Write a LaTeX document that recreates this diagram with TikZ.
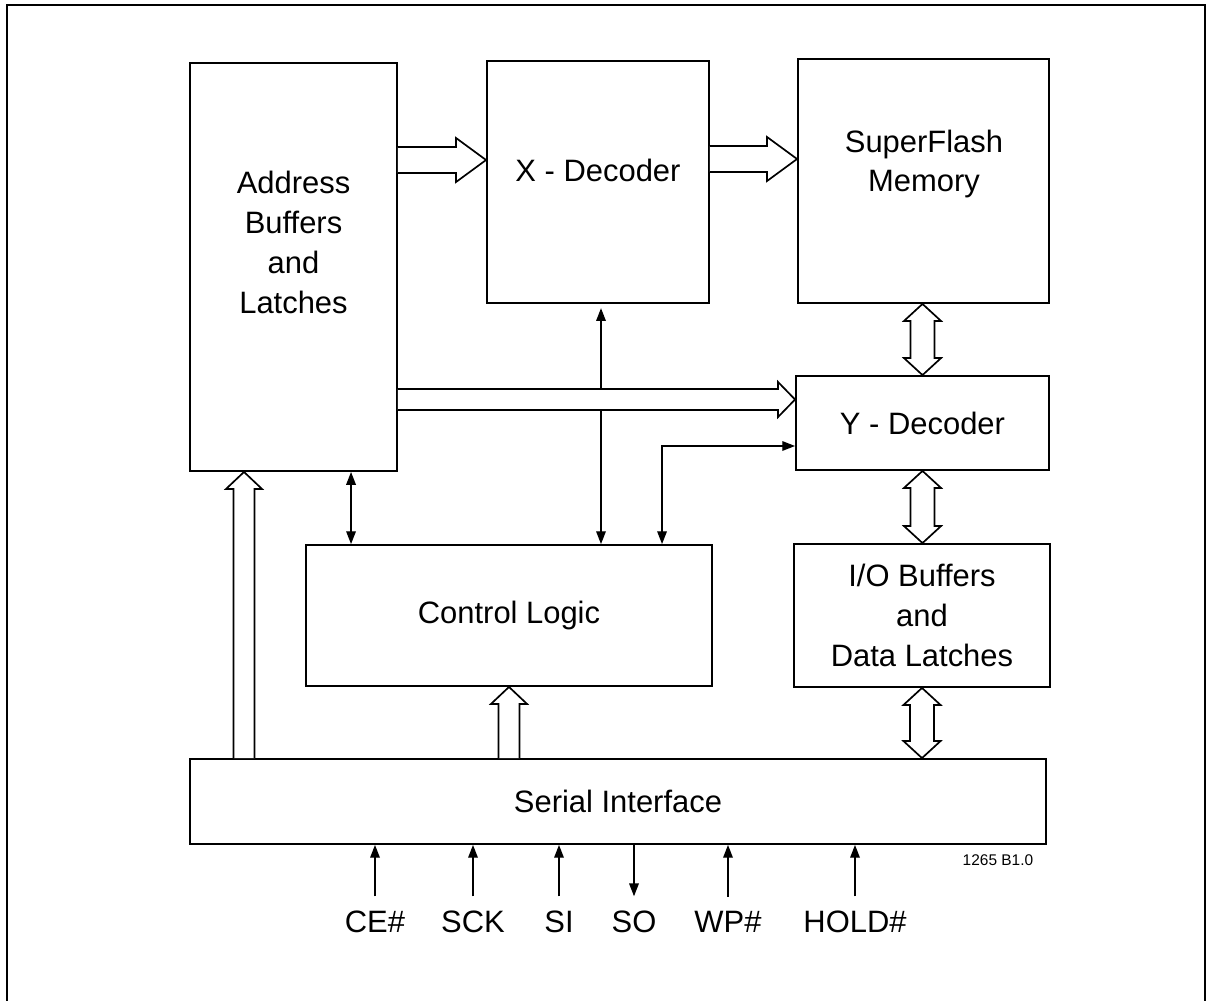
\documentclass[tikz,border=0pt]{standalone}
\usepackage{fontspec}
\setmainfont{Liberation Sans}
\usetikzlibrary{arrows.meta,calc}

% hollow bus arrows: start, tip, shaft half width, head half width, head length
\newcommand{\busright}[5]{\filldraw[bus] ($(#1)+(0,-#3)$) -- ($(#2)+(-#5,-#3)$) -- ($(#2)+(-#5,-#4)$) -- (#2) -- ($(#2)+(-#5,#4)$) -- ($(#2)+(-#5,#3)$) -- ($(#1)+(0,#3)$);}
\newcommand{\busup}[5]{\filldraw[bus] ($(#1)+(-#3,0)$) -- ($(#2)+(-#3,#5)$) -- ($(#2)+(-#4,#5)$) -- (#2) -- ($(#2)+(#4,#5)$) -- ($(#2)+(#3,#5)$) -- ($(#1)+(#3,0)$);}
\newcommand{\busboth}[5]{\filldraw[bus] (#1) -- ($(#1)+(#4,#5)$) -- ($(#1)+(#3,#5)$) -- ($(#2)+(#3,-#5)$) -- ($(#2)+(#4,-#5)$) -- (#2) -- ($(#2)+(-#4,-#5)$) -- ($(#2)+(-#3,-#5)$) -- ($(#1)+(-#3,#5)$) -- ($(#1)+(-#4,#5)$) -- cycle;}

\begin{document}
\begin{tikzpicture}[x=0.025cm,y=-0.025cm,
      >={Triangle[length=0.32cm,width=0.24cm]},
      every node/.style={font=\fontsize{22}{28.4}\selectfont},
      blk/.style={draw,line width=1.3pt,inner sep=0pt,align=center},
      txt/.style={inner sep=0pt,align=center},
      sig/.style={line width=1pt},
      bus/.style={fill=white,line width=1.2pt},
      pin/.style={inner sep=0pt,outer ysep=0.37cm}]
      \useasboundingbox (0,0) rectangle (1212,1001);
      \draw[line width=1.4pt] (7,1001) -- (7,5) -- (1205,5) -- (1205,1001);
      % blocks
      \node[blk,minimum width=5.175cm,minimum height=10.2cm] (abl) at (293.5,267) {};
      \node[txt] (abltxt) at (293.5,242.5) {Address\\Buffers\\and\\Latches};
      \node[blk,minimum width=5.55cm,minimum height=6.05cm] (xdec) at (598,182) {};
      \node[txt] (xdectxt) at (598,170) {X - Decoder};
      \node[blk,minimum width=6.275cm,minimum height=6.1cm] (mem) at (923.5,181) {};
      \node[txt] (memtxt) at (924,164) {SuperFlash\\Memory};
      \node[blk,minimum width=6.325cm,minimum height=2.35cm] (ydec) at (922.5,423) {Y - Decoder};
      \node[blk,minimum width=6.4cm,minimum height=3.575cm] (iob) at (922,615.5) {I/O Buffers\\and\\Data Latches};
      \node[blk,minimum width=10.15cm,minimum height=3.525cm] (ctl) at (509,615.5) {Control Logic};
      \node[blk,minimum width=21.4cm,minimum height=2.125cm] (ser) at (618,801.5) {Serial Interface};
      \node[font=\fontsize{11}{13}\selectfont] (fig) at (998,860) {1265 B1.0};
      % control lines
      \coordinate (ac) at ($(ctl.north west)+(46,0)$);
      \draw[sig,<->] (abl.south -| ac) -- (ac);
      \coordinate (xc) at ($(xdec.south)+(3,0)$);
      \draw[sig,<->,shorten <=3pt] (xc) -- (xc |- ctl.north);
      \coordinate (cc) at ($(ctl.north west)+(357,0)$);
      \coordinate (cy) at ($(ydec.west)+(0,23)$);
      \draw[sig,<->] (cc) |- (cy);
      % buses
      \coordinate (ax1) at ($(xdec.west)+(0,-22)$);
      \coordinate (ax0) at (abl.east |- ax1);
      \busright{ax0}{ax1}{13}{22}{30}
      \coordinate (xm1) at ($(mem.west)+(0,-22)$);
      \coordinate (xm0) at (xdec.east |- xm1);
      \busright{xm0}{xm1}{13}{22}{30}
      \coordinate (ay1) at ($(ydec.west)+(0,-23.5)$);
      \coordinate (ay0) at (abl.east |- ay1);
      \busright{ay0}{ay1}{10.5}{17.5}{17}
      \coordinate (sa1) at ($(abl.south)+(-49.5,0)$);
      \coordinate (sa0) at (ser.north -| sa1);
      \busup{sa0}{sa1}{10.5}{18}{17}
      \coordinate (sc1) at (ctl.south);
      \coordinate (sc0) at (ser.north -| sc1);
      \busup{sc0}{sc1}{10.5}{18}{17}
      \coordinate (my0) at (mem.south -| ydec.north);
      \coordinate (my1) at (ydec.north);
      \busboth{my0}{my1}{12}{18.5}{17}
      \coordinate (yi0) at (ydec.south);
      \coordinate (yi1) at (ydec.south |- iob.north);
      \busboth{yi0}{yi1}{12}{18.5}{17}
      \coordinate (is0) at (iob.south);
      \coordinate (is1) at (iob.south |- ser.north);
      \busboth{is0}{is1}{12}{18.5}{17}
      % pins
      \foreach \x/\name/\lbl in {375/ce/CE\#,473/sck/SCK,559/si/SI,728/wp/WP\#,855/hold/HOLD\#}{
        \node[pin] (\name) at (\x,922) {\lbl};
        \draw[sig,->] (\name.north) -- (\name.north |- ser.south);
      }
      \node[pin] (so) at (634,922) {SO};
      \draw[sig,->] (so.north |- ser.south) -- (so.north);
     \end{tikzpicture}
\end{document}
